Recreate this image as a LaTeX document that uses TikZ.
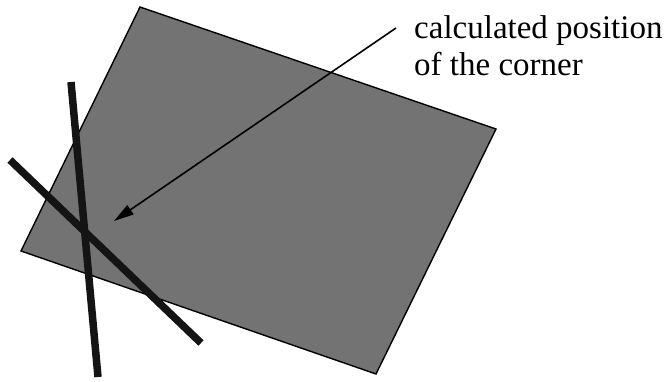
\documentclass[tikz,border=0pt]{standalone}
\usepackage{fontspec}
\setmainfont{Liberation Serif}
\usetikzlibrary{arrows.meta}
\begin{document}
\begin{tikzpicture}[x=1pt,y=-1pt,
  plate/.style={fill=black!55,draw=black,line width=1.4pt,line join=miter},
  bar/.style={draw=black!92,line width=7.5pt,line cap=butt},
  pointer/.style={draw=black,line width=1.6pt,-{Triangle[length=20pt,width=11pt]}},
  label/.style={font=\fontsize{33}{37}\selectfont,align=left,inner sep=0pt,anchor=base west}]
\useasboundingbox (0,0) rectangle (664,381);
\coordinate (tl) at (140,7);
\coordinate (tr) at (496,129);
\coordinate (br) at (376,374);
\coordinate (bl) at (21,251);
\fill[plate] (tl) -- (tr) -- (br) -- (bl) -- cycle;
\coordinate (v1) at (71,82);
\coordinate (v2) at (98,377);
\coordinate (d1) at (10,160);
\coordinate (d2) at (201,343);
\draw[bar] (v1) -- (v2);
\draw[bar] (d1) -- (d2);
\node[label] (txt) at (414,75) {calculated position\\of the corner};
\coordinate (from) at (396,28);
\coordinate (corner) at (114,221);
\draw[pointer] (from) -- (corner);
\end{tikzpicture}
\end{document}
